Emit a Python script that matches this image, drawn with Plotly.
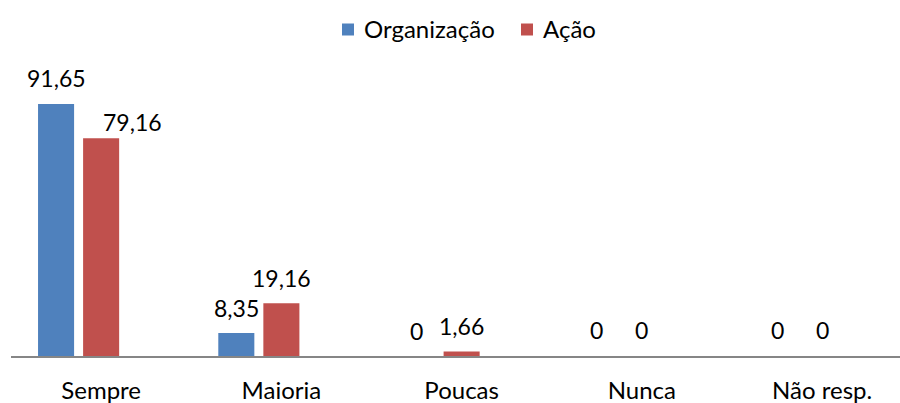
import plotly.graph_objects as go

categories = ["Sempre", "Maioria", "Poucas", "Nunca", "Não resp."]
organizacao = [91.65, 8.35, 0, 0, 0]
acao = [79.16, 19.16, 1.66, 0, 0]
org_labels = ["91,65", "8,35", "0", "0", "0"]
acao_labels = ["79,16", "19,16", "1,66", "0", "0"]
series_names = ["Organização", "Ação"]

BLUE = "#4F81BD"
RED = "#C0504D"
FONT = "Lato"
FS = 24
LFS = 23

# style: extra label shifts (px) for the data labels
acao_label_dx = [31, 0, 0, 0, 0]
acao_label_dy = [16, 25, 25, 26, 26]
org_label_dy = [26, 25, 25, 26, 26]

W, H = 900, 403
ML, MR, MT, MB = 11, 0, 81, 47
PW, PH = W - ML - MR, H - MT - MB

fig = go.Figure()
fig.add_trace(go.Bar(name=series_names[0], x=categories, y=organizacao,
                     marker_color=BLUE, offset=-0.35, width=0.2,
                     marker_line_width=0))
fig.add_trace(go.Bar(name=series_names[1], x=categories, y=acao,
                     marker_color=RED, offset=-0.1, width=0.2,
                     marker_line_width=0))

annotations = []
for i, (v, t) in enumerate(zip(organizacao, org_labels)):
    annotations.append(dict(x=i - 0.25, y=v, xref="x", yref="y", text=t,
                            showarrow=False, yanchor="middle", xanchor="center",
                            yshift=org_label_dy[i],
                            font=dict(family=FONT, size=LFS, color="#000")))
for i, (v, t) in enumerate(zip(acao, acao_labels)):
    annotations.append(dict(x=i, y=v, xref="x", yref="y", text=t,
                            showarrow=False, yanchor="middle", xanchor="center",
                            xshift=acao_label_dx[i], yshift=acao_label_dy[i],
                            font=dict(family=FONT, size=LFS, color="#000")))

# custom legend (pixel layout converted to paper coordinates)
def px_to_paper(px, py):
    return (px - ML) / PW, (H - MB - py) / PH

legend_items = [(series_names[0], BLUE, 342, 362), (series_names[1], RED, 521, 541)]
shapes = []
for name, col, sq_x, tx in legend_items:
    x0, y0 = px_to_paper(sq_x, 35.5)
    x1, y1 = px_to_paper(sq_x + 12, 23.5)
    shapes.append(dict(type="rect", xref="paper", yref="paper",
                       x0=x0, y0=y0, x1=x1, y1=y1,
                       fillcolor=col, line=dict(width=0)))
    ax, ay = px_to_paper(tx, 28.5)
    annotations.append(dict(x=ax, y=ay, xref="paper", yref="paper", text=name,
                            showarrow=False, xanchor="left", yanchor="middle",
                            font=dict(family=FONT, size=FS, color="#000")))

fig.update_layout(
    width=W, height=H,
    margin=dict(l=ML, r=MR, t=MT, b=MB),
    paper_bgcolor="white", plot_bgcolor="white",
    font=dict(family=FONT, size=FS, color="#000"),
    showlegend=False,
    annotations=annotations,
    shapes=shapes,
)
fig.update_xaxes(type="category", range=[-0.5, 4.432], showgrid=False,
                 showline=True, linecolor="#868686", linewidth=1.5,
                 ticks="outside", ticklen=12, tickcolor="rgba(0,0,0,0)",
                 tickfont=dict(family=FONT, size=FS, color="#000"),
                 automargin=False, fixedrange=True)
fig.update_yaxes(range=[0, 100], visible=False, showgrid=False,
                 zeroline=False, fixedrange=True)

fig.write_html("out.html", config={"displayModeBar": False},
               post_script="document.body.style.margin='0';document.body.style.overflow='hidden';")
